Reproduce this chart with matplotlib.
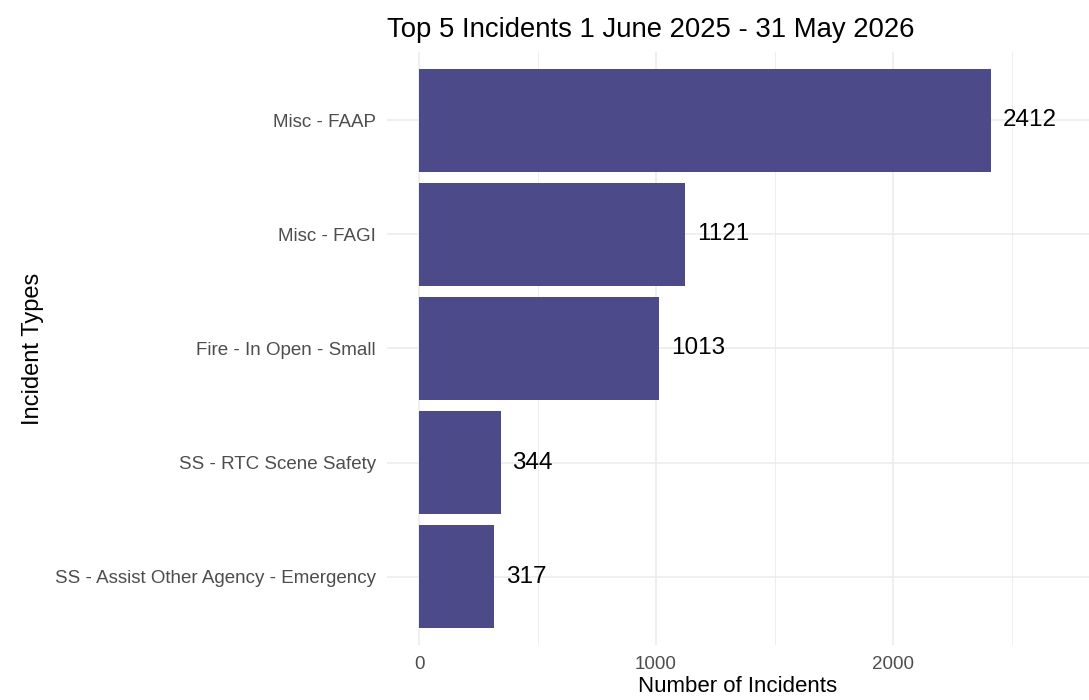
import matplotlib.pyplot as plt
from matplotlib.ticker import MultipleLocator

plt.rcParams['font.family'] = ['Liberation Sans', 'DejaVu Sans']

# data, top bar first
incident_types = ["Misc - FAAP", "Misc - FAGI", "Fire - In Open - Small",
                  "SS - RTC Scene Safety", "SS - Assist Other Agency - Emergency"]
counts = [2412, 1121, 1013, 344, 317]

bar_colour = "#4C4A89"
grid_colour = "#EBEBEB"
tick_colour = "#4D4D4D"

fig = plt.figure(figsize=(10.89, 7), dpi=100)
ax = fig.add_axes([0.3554, 0.0786, 0.6446, 0.8471])

ypos = list(range(len(incident_types)))[::-1]
ax.barh(ypos, counts, height=0.9, color=bar_colour, zorder=3)

# value labels to the right of each bar
for y, c in zip(ypos, counts):
    ax.annotate(str(c), xy=(c, y), xytext=(8.6, 0), textcoords='offset points',
                ha='left', va='center', fontsize=17.5, color='black', zorder=4)

ax.set_xlim(-135, 2827)
ax.set_ylim(-0.6, len(incident_types) - 0.4)
ax.set_yticks(ypos)
ax.set_yticklabels(incident_types)
ax.xaxis.set_major_locator(MultipleLocator(1000))
ax.xaxis.set_minor_locator(MultipleLocator(500))

ax.grid(True, which='major', color=grid_colour, linewidth=1.1, zorder=0)
ax.grid(True, which='minor', axis='x', color=grid_colour, linewidth=0.6, zorder=0)
for s in ax.spines.values():
    s.set_visible(False)
ax.tick_params(which='both', length=0)
ax.tick_params(axis='both', labelsize=13.5, labelcolor=tick_colour, pad=8)

ax.set_xlabel("Number of Incidents", fontsize=16, labelpad=2)
ax.set_ylabel("Incident Types", fontsize=17, labelpad=8)
ax.set_title("Top 5 Incidents 1 June 2025 - 31 May 2026", loc='left',
             fontsize=19.8, pad=11)

fig.savefig("out.png", dpi=100)
